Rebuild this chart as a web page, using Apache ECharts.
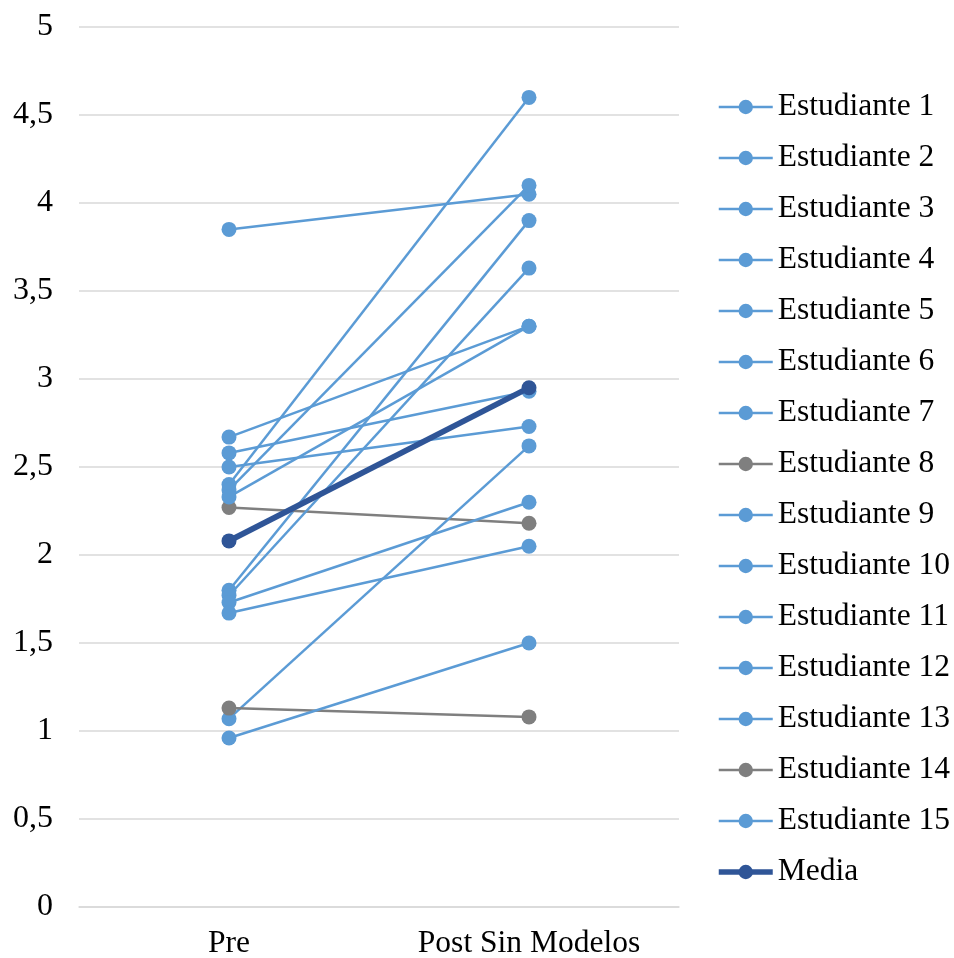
<!DOCTYPE html>
<html>
<head>
<meta charset="utf-8">
<script src="https://cdn.jsdelivr.net/npm/echarts@6/dist/echarts.min.js"></script>
<style>html,body{margin:0;padding:0;background:#fff}#c{width:954px;height:958px}</style>
</head>
<body>
<div id="c"></div>
<script>
const categories = ['Pre', 'Post Sin Modelos'];
const yTicks = [0, 0.5, 1, 1.5, 2, 2.5, 3, 3.5, 4, 4.5, 5];
const seriesNames = ['Estudiante 1','Estudiante 2','Estudiante 3','Estudiante 4','Estudiante 5','Estudiante 6','Estudiante 7','Estudiante 8','Estudiante 9','Estudiante 10','Estudiante 11','Estudiante 12','Estudiante 13','Estudiante 14','Estudiante 15','Media'];
const est1 = [3.85, 4.05];
const est2 = [2.40, 4.60];
const est3 = [2.67, 3.30];
const est4 = [1.80, 3.90];
const est5 = [2.58, 2.93];
const est6 = [2.37, 4.10];
const est7 = [2.50, 2.73];
const est8 = [2.27, 2.18];
const est9 = [1.77, 3.63];
const est10 = [1.73, 2.30];
const est11 = [2.33, 3.30];
const est12 = [1.07, 2.62];
const est13 = [1.67, 2.05];
const est14 = [1.13, 1.08];
const est15 = [0.96, 1.50];
const media = [2.08, 2.95];
const seriesValues = [est1, est2, est3, est4, est5, est6, est7, est8, est9, est10, est11, est12, est13, est14, est15, media];

const BLUE = '#5B9BD5', GRAY = '#7F7F7F', DARK = '#2F5597';
const FONT = '"Liberation Serif", "Times New Roman", serif';

function colorOf(name) {
  if (name === 'Media') return DARK;
  if (name === 'Estudiante 8' || name === 'Estudiante 14') return GRAY;
  return BLUE;
}

const series = seriesValues.map((vals, i) => {
  const name = seriesNames[i];
  const isMedia = name === 'Media';
  const color = colorOf(name);
  return {
    name: name,
    type: 'line',
    data: vals,
    symbol: 'circle',
    symbolSize: 15,
    color: color,
    lineStyle: { color: color, width: isMedia ? 5.75 : 2.5 },
    itemStyle: { color: color },
    z: isMedia ? 5 : 2,
    animation: false
  };
});

const legendData = seriesNames.map(name => ({
  name: name,
  lineStyle: { color: colorOf(name), width: name === 'Media' ? 5.5 : 2.5 },
  itemStyle: { color: colorOf(name) }
}));

const chart = echarts.init(document.getElementById('c'));
chart.setOption({
  backgroundColor: '#fff',
  animation: false,
  grid: { left: 79, top: 27, width: 600, height: 880, containLabel: false, outerBoundsMode: 'none' },
  xAxis: {
    type: 'category',
    data: categories,
    boundaryGap: true,
    axisLine: { show: true, lineStyle: { color: '#D9D9D9', width: 1.5 } },
    axisTick: { show: false },
    axisLabel: { color: '#000', fontFamily: FONT, fontSize: 31.5, margin: 21 }
  },
  yAxis: {
    type: 'value',
    min: yTicks[0],
    max: yTicks[yTicks.length - 1],
    interval: 0.5,
    axisLine: { show: false },
    axisTick: { show: false },
    splitLine: { lineStyle: { color: '#D9D9D9', width: 1.5 } },
    axisLabel: {
      color: '#000', fontFamily: FONT, fontSize: 32, margin: 26,
      formatter: v => String(v).replace('.', ',')
    }
  },
  legend: {
    orient: 'vertical',
    left: 711,
    top: 84,
    itemWidth: 54,
    itemHeight: 18,
    itemGap: 15,
    data: legendData,
    textStyle: { color: '#000', fontFamily: FONT, fontSize: 31.5, lineHeight: 36 }
  },
  series: series
});
</script>
</body>
</html>
